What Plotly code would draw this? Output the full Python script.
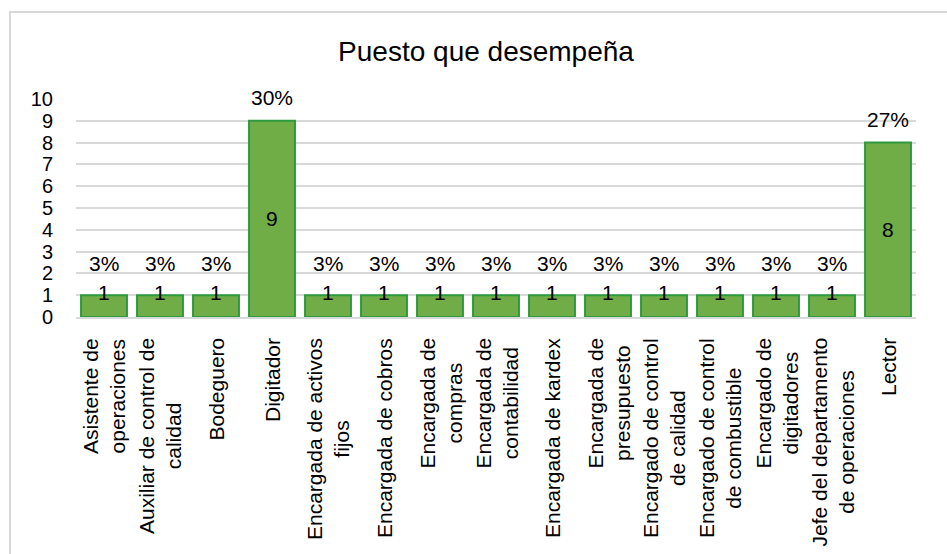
import plotly.graph_objects as go

categories = [
    "Asistente de<br>operaciones",
    "Auxiliar de control de<br>calidad",
    "Bodeguero",
    "Digitador",
    "Encargada de activos<br>fijos",
    "Encargada de cobros",
    "Encargada de<br>compras",
    "Encargada de<br>contabilidad",
    "Encargada de kardex",
    "Encargada de<br>presupuesto",
    "Encargado de control<br>de calidad",
    "Encargado de control<br>de combustible",
    "Encargado de<br>digitadores",
    "Jefe del departamento<br>de operaciones",
    "Lector",
]
values = [1, 1, 1, 9, 1, 1, 1, 1, 1, 1, 1, 1, 1, 1, 8]
y_ticks = list(range(0, 11))

FONT = "Arial, 'Liberation Sans', sans-serif"
W, H = 947, 554
ML, MR, MT, MB = 76, 31, 99, 237

total = sum(values)
x_idx = list(range(len(categories)))

fig = go.Figure()
fig.add_trace(go.Bar(
    x=x_idx, y=values,
    marker=dict(color="#70AD47", line=dict(color="#2E9A3E", width=2)),
    width=0.82,
    hoverinfo="skip",
))

annotations = []
for i, v in enumerate(values):
    small = v < 3
    # value label
    annotations.append(dict(
        x=i, y=(v if small else v / 2), xref="x", yref="y",
        text=str(v), showarrow=False, yanchor="middle",
        yshift=(3 if small else 0),
        font=dict(family=FONT, size=21, color="#000000"),
    ))
    # percentage label
    pct = round(100 * v / total)
    annotations.append(dict(
        x=i, y=v, xref="x", yref="y",
        text=f"{pct}%", showarrow=False, yanchor="bottom",
        yshift=(18 if small else 10),
        font=dict(family=FONT, size=21, color="#000000"),
    ))
    # category label
    annotations.append(dict(
        x=i, y=0, xref="x", yref="y",
        text=categories[i], showarrow=False, textangle=-90,
        xanchor="center", yanchor="top", align="center", yshift=-19,
        font=dict(family=FONT, size=21, color="#000000"),
    ))

pw = W - ML - MR
ph = H - MT - MB
def px_to_paper_x(px):
    return (px - ML) / pw
def px_to_paper_y(py):
    return (H - MB - py) / ph

shapes = [dict(
    type="rect", xref="paper", yref="paper",
    x0=px_to_paper_x(10), x1=px_to_paper_x(960),
    y0=px_to_paper_y(570), y1=px_to_paper_y(12),
    line=dict(color="#D9D9D9", width=2), fillcolor="rgba(0,0,0,0)", layer="below",
)]

fig.update_layout(
    width=W, height=H,
    margin=dict(l=ML, r=MR, t=MT, b=MB),
    paper_bgcolor="white", plot_bgcolor="white",
    title=dict(text="Puesto que desempeña", x=(486 / W), xref="container", xanchor="center",
               y=1 - 51 / H, yref="container", yanchor="middle",
               font=dict(family=FONT, size=28, color="#000000")),
    showlegend=False,
    bargap=0.18,
    annotations=annotations,
    shapes=shapes,
    xaxis=dict(range=[-0.5, len(categories) - 0.5], showticklabels=False,
               showgrid=False, zeroline=False, showline=True,
               linecolor="#D9D9D9", linewidth=2, fixedrange=True),
    yaxis=dict(range=[0, 10], tickvals=y_ticks, ticktext=[str(t) for t in y_ticks],
               showgrid=True, gridcolor="#D9D9D9", gridwidth=2,
               zeroline=False, showline=False, ticks="",
               ticklabelstandoff=22,
               tickfont=dict(family=FONT, size=20, color="#000000"),
               fixedrange=True),
)

fig.write_html("out.html")
